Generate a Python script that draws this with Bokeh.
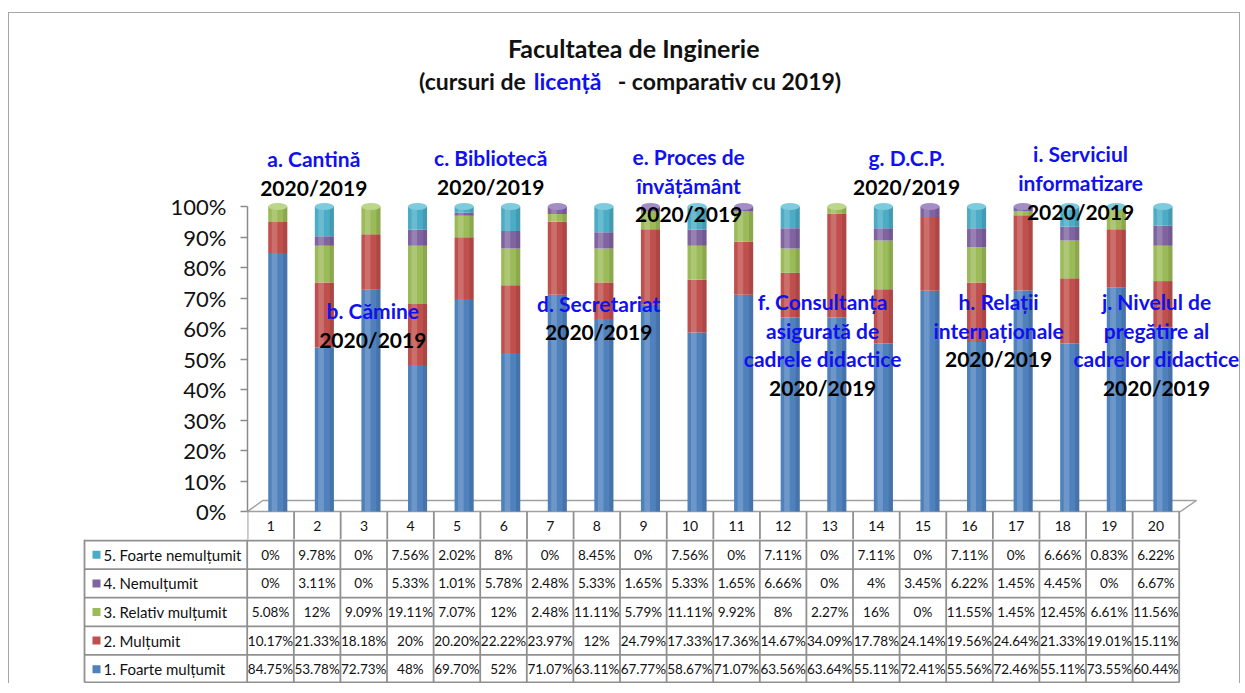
from bokeh.plotting import figure
from bokeh.models import ColumnDataSource, Range1d, FixedTicker, CustomJSTickFormatter
from bokeh.layouts import column
from bokeh.embed import file_html
from bokeh.resources import INLINE
from bokeh.core.properties import value

# ---------------- data ----------------
categories = [str(i) for i in range(1, 21)]
foarte_multumit = [84.75, 53.78, 72.73, 48, 69.70, 52, 71.07, 63.11, 67.77, 58.67,
                   71.07, 63.56, 63.64, 55.11, 72.41, 55.56, 72.46, 55.11, 73.55, 60.44]
multumit = [10.17, 21.33, 18.18, 20, 20.20, 22.22, 23.97, 12, 24.79, 17.33,
            17.36, 14.67, 34.09, 17.78, 24.14, 19.56, 24.64, 21.33, 19.01, 15.11]
relativ_multumit = [5.08, 12, 9.09, 19.11, 7.07, 12, 2.48, 11.11, 5.79, 11.11,
                    9.92, 8, 2.27, 16, 0, 11.55, 1.45, 12.45, 6.61, 11.56]
nemultumit = [0, 3.11, 0, 5.33, 1.01, 5.78, 2.48, 5.33, 1.65, 5.33,
              1.65, 6.66, 0, 4, 3.45, 6.22, 1.45, 4.45, 0, 6.67]
foarte_nemultumit = [0, 9.78, 0, 7.56, 2.02, 8, 0, 8.45, 0, 7.56,
                     0, 7.11, 0, 7.11, 0, 7.11, 0, 6.66, 0.83, 6.22]
series_names = ["1. Foarte mulțumit", "2. Mulțumit", "3. Relativ mulțumit",
                "4. Nemulțumit", "5. Foarte nemulțumit"]
y_ticks = [0, 10, 20, 30, 40, 50, 60, 70, 80, 90, 100]

title_line1 = "Facultatea de Inginerie"
title_line2 = ["(cursuri de", "licență", "- comparativ cu 2019)"]
group_labels = [
    (["a. Cantină"], 313, 158, 187),
    (["b. Cămine"], 372, 310, 339),
    (["c. Bibliotecă"], 490, 157, 186),
    (["d. Secretariat"], 598, 303, 331),
    (["e. Proces de", "învățământ"], 688, 156, 213),
    (["f. Consultanța", "asigurată de", "cadrele didactice"], 822, 301, 387),
    (["g. D.C.P."], 906, 157, 186),
    (["h. Relații", "internaționale"], 998, 301, 358),
    (["i. Serviciul", "informatizare"], 1080, 153, 211),
    (["j. Nivelul de", "pregătire al", "cadrelor didactice"], 1156, 301, 387),
]
period = "2020/2019"

# ---------------- style / layout ----------------
colors = ["#4F81BD", "#C0504D", "#9BBB59", "#8064A2", "#4BACC6"]
caps = ["#7FA6D6", "#D9817F", "#BCD68A", "#A48CC4", "#7FCBDE"]
BLUE = "#1010F0"
FONT = value("Lato")
PX = 46.6   # px per category
X0 = 270    # page x of category 1
Y0 = 511    # page y of 0 %
PY = 3.05   # px per percent
LEFT, TOP, RIGHT = 9, 13, 1239   # inner edges of the outer chart border
W = RIGHT - LEFT


def dx(px):
    return 1 + (px - X0) / PX


def dy(py):
    return (Y0 - py) / PY


series = [foarte_multumit, multumit, relativ_multumit, nemultumit, foarte_nemultumit]
keys = ["s1", "s2", "s3", "s4", "s5"]
xs = [i + 1 for i in range(len(categories))]
xb = [x + 0.15 for x in xs]
src = ColumnDataSource(dict(x=xb, **{k: v for k, v in zip(keys, series)}))

p = figure(width=W, height=539 - TOP, x_range=Range1d(0.5, dx(RIGHT)),
           y_range=Range1d(dy(539), dy(20)), output_backend="svg",
           toolbar_location=None, x_axis_type=None,
           min_border_left=247 - LEFT, min_border_right=0, min_border_top=20 - TOP,
           min_border_bottom=0)
p.title = None
p.frame_align = False
p.grid.visible = False
p.outline_line_color = None
p.background_fill_color = "white"

ax = p.yaxis[0]
ax.ticker = FixedTicker(ticks=y_ticks)
ax.formatter = CustomJSTickFormatter(code="return tick + '%';")
ax.bounds = (0, 100)
ax.axis_line_color = "#8a8a8a"
ax.axis_line_width = 1.5
ax.major_tick_line_color = "#8a8a8a"
ax.major_tick_line_width = 1.5
ax.major_tick_in = 0
ax.major_tick_out = 7
ax.minor_tick_line_color = None
ax.major_label_text_font = "Lato"
ax.major_label_text_font_size = "22px"
ax.major_label_text_color = "#111111"
ax.major_label_standoff = 14

# floor
p.patch([0.5, dx(1180), dx(1196), dx(262)], [0, 0, dy(500), dy(500)],
        fill_color="white", line_color="#a0a0a0", line_width=1.5)

# stacked bars
p.vbar_stack(keys, x="x", width=0.41, color=colors, line_color=None, source=src)
totals = [sum(s[i] for s in series) for i in range(len(xs))]
p.vbar(x=[x - 0.07 for x in xb], top=totals, width=0.12, fill_color="white",
       fill_alpha=0.18, line_color=None)
p.vbar(x=[x + 0.16 for x in xb], top=totals, width=0.09, fill_color="black",
       fill_alpha=0.10, line_color=None)
cap_cols = []
for i in range(len(xs)):
    c = caps[0]
    for k in range(5):
        if series[k][i] > 0:
            c = caps[k]
    cap_cols.append(c)
p.ellipse(x=xb, y=totals, width=19, height=7, width_units="screen",
          height_units="screen", fill_color=cap_cols, line_color=None)

# header row of the data table (category numbers)
edges = [0.5 + i for i in range(len(xs) + 1)]
p.segment(x0=edges, y0=[0] * len(edges), x1=edges, y1=[dy(540)] * len(edges),
          line_color="#909090", line_width=1.8)
p.text(x=xs, y=[dy(525)] * len(xs), text=categories, text_font=FONT,
       text_font_size="14px", text_align="center", text_baseline="middle",
       text_color="#111111")

# titles
p.text(x=[dx(633)], y=[dy(47)], text=[title_line1], text_font=FONT,
       text_font_style="bold", text_font_size="25px", text_align="center",
       text_baseline="middle", text_color="#111111")
p.text(x=[dx(525), dx(533), dx(617)], y=[dy(80)] * 3,
       text=title_line2,
       text_color=["#111111", BLUE, "#111111"], text_font=FONT,
       text_align=["right", "left", "left"],
       text_font_style="bold", text_font_size="23px",
       text_baseline="middle")

# group labels
lt, lx, ly, lc = [], [], [], []
for lines, cx, ytop, yper in group_labels:
    for j, s in enumerate(lines):
        lt.append(s)
        lx.append(dx(cx))
        ly.append(dy(ytop + 28.7 * j))
        lc.append(BLUE)
    lt.append(period)
    lx.append(dx(cx))
    ly.append(dy(yper))
    lc.append("#000000")
p.text(x=lx, y=ly, text=lt, text_color=lc, text_font=FONT, text_font_style="bold",
       text_font_size="21px", text_align="center", text_baseline="middle")

# ---------------- data table ----------------
TH = 144
RH = 28.6
t = figure(width=W, height=TH, x_range=Range1d(dx(LEFT), dx(RIGHT)),
           y_range=Range1d(TH, 0), output_backend="svg", toolbar_location=None,
           x_axis_type=None, y_axis_type=None,
           min_border_left=0, min_border_right=0, min_border_top=0, min_border_bottom=0)
t.title = None
t.frame_align = False
t.grid.visible = False
t.outline_line_color = None

left = dx(84)
row_lines = [1 + RH * r for r in range(6)]
row_lines[-1] = 143
t.segment(x0=[left] * 6, y0=row_lines, x1=[20.5] * 6, y1=row_lines,
          line_color="#909090", line_width=1.8)
vx = [left] + edges
t.segment(x0=vx, y0=[0] * len(vx), x1=vx, y1=[143] * len(vx),
          line_color="#909090", line_width=1.8)


def fmt(v):
    return f"{int(v)}%" if float(v).is_integer() else f"{v:.2f}%"


tx, ty, tt = [], [], []
for r, k in enumerate([4, 3, 2, 1, 0]):
    yc = 1 + RH * r + RH / 2
    for i in range(len(xs)):
        tx.append(xs[i])
        ty.append(yc)
        tt.append(fmt(series[k][i]))
t.text(x=tx, y=ty, text=tt, text_font=FONT, text_font_size="13.5px",
       text_align="center", text_baseline="middle", text_color="#111111")

ly2 = [1 + RH * r + RH / 2 for r in range(5)]
order = [4, 3, 2, 1, 0]
t.scatter(x=[dx(96)] * 5, y=ly2, marker="square", size=8,
          fill_color=[colors[k] for k in order], line_color=None)
t.text(x=[dx(103)] * 5, y=ly2, text=[series_names[k] for k in order], text_font=FONT,
       text_font_size="15px", text_align="left", text_baseline="middle",
       text_color="#111111")

layout = column(p, t, spacing=0, styles={
    "margin-left": "8px", "margin-top": "12px",
    "border-top": "1px solid #a6a6a6", "border-left": "1px solid #a6a6a6",
    "border-right": "1px solid #a6a6a6"})
open("out.html", "w").write(file_html(layout, INLINE))
